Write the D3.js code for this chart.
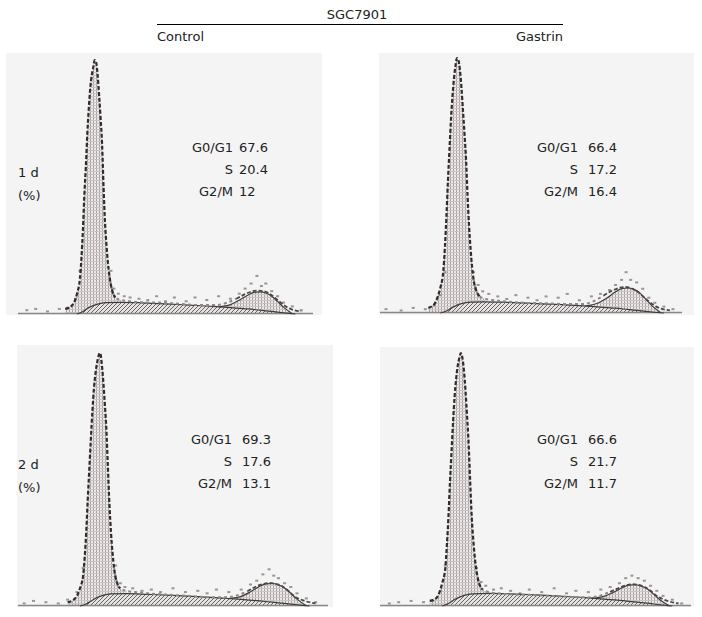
<!DOCTYPE html>
<html>
<head>
<meta charset="utf-8">
<script src="https://cdn.jsdelivr.net/npm/d3@7"></script>
<style>
  body { margin: 0; background: #fff; }
  text { font-family: "DejaVu Sans", Verdana, sans-serif; font-size: 13px; fill: #222; }
</style>
</head>
<body>
<svg id="chart" width="702" height="617"></svg>
<script>
// ----------------------
// 1. Data (DNA channel 0-100, counts as % of G1 peak)
// ----------------------
const groups = ["Control", "Gastrin"];
const days = ["1 d", "2 d"];
const phaseLabels = ["G0/G1", "S", "G2/M"];

const control1d = [67.6, 20.4, 12];
const gastrin1d = [66.4, 17.2, 16.4];
const control2d = [69.3, 17.6, 13.1];
const gastrin2d = [66.6, 21.7, 11.7];

const channels = [0, 4, 8, 12, 16, 18, 19, 20, 21, 21.5, 22, 22.5, 23, 23.5, 24, 24.5, 25, 25.5, 26,
  26.5, 27, 27.5, 28, 28.5, 29, 29.5, 30, 30.5, 31, 32, 33, 35, 38, 42, 48, 55, 62, 67, 71,
  74, 77, 79, 81, 83, 85, 87, 89, 92, 96, 100];

const histTL = [1, 1.5, 1, 1.5, 2, 3, 4.5, 8, 14, 22, 33, 47, 58, 71, 81, 89, 94, 97, 100,
  99, 94, 86, 77, 67, 50, 36, 27, 20, 15, 9, 6.5, 5.5, 5, 4.6, 4.5, 4, 3.5, 3.5, 4.5,
  6, 7.8, 8.8, 9.2, 9, 8.2, 6.5, 4.5, 2.2, 1, 0.5];
const histTR = [1, 1, 1.5, 1, 2, 3.5, 6, 10, 17, 26, 38, 52, 64, 76, 85, 92, 97, 100, 99,
  95, 88, 79, 70, 60, 46, 34, 25, 18, 13, 8.5, 6.5, 5.5, 5, 4.5, 4, 3.8, 3.5, 3.5, 4.8,
  6.8, 8.8, 9.8, 10.2, 9.8, 8.6, 6.6, 4.5, 2.2, 1, 0.5];
const histBL = [1, 1.5, 1, 1, 1.5, 2.5, 4, 7, 12, 19, 29, 42, 54, 66, 77, 86, 92, 96, 99,
  100, 96, 89, 80, 70, 55, 40, 29, 21, 15, 9, 7, 6, 5.5, 5, 4.5, 4, 3.5, 3.5, 4.3,
  5.8, 7.8, 8.7, 9.1, 8.8, 8, 6.2, 4, 2.2, 1, 0.5];
const histBR = [1, 1, 1.5, 1, 2, 3, 5, 9, 15, 24, 35, 49, 61, 73, 83, 90, 95, 98, 100,
  98, 93, 85, 75, 64, 49, 35, 26, 19, 14, 8.5, 6.5, 5.5, 5, 4.6, 4.4, 4, 3.6, 3.4, 4.2,
  5.6, 7.2, 8.1, 8.6, 8.4, 7.6, 6, 4, 2.2, 1, 0.5];

// S-phase fitted component
const sChannels = [20, 22, 24, 26, 28, 30, 35, 42, 50, 58, 66, 72, 78, 82, 86, 90, 94];
const sTL = [0, 1, 2.5, 3.5, 4.2, 4.5, 4.6, 4.4, 4, 3.5, 3, 2.5, 2, 1.5, 1, 0.5, 0];
const sTR = [0, 0.8, 2.2, 3.3, 4, 4.3, 4.4, 4.2, 3.8, 3.4, 2.9, 2.4, 1.9, 1.4, 0.9, 0.4, 0];
const sBL = [0, 0.8, 2.3, 3.6, 4.4, 4.8, 4.9, 4.6, 4.2, 3.7, 3.1, 2.6, 2, 1.5, 1, 0.5, 0];
const sBR = [0, 1, 2.6, 3.7, 4.5, 4.8, 5, 4.8, 4.4, 3.9, 3.3, 2.7, 2.1, 1.6, 1.1, 0.5, 0];

// G2/M fitted component (sits on top of S)
const g2Channels = [68, 72, 75, 78, 80, 82, 84, 86, 88, 90, 93];
const g2TL = [0, 1.2, 3.2, 5.5, 6.8, 7.2, 7, 6, 4.2, 2.2, 0];
const g2TR = [0, 1.4, 3.6, 6.4, 7.9, 8.4, 8.1, 7, 4.8, 2.5, 0];
const g2BL = [0, 1.2, 3.3, 5.8, 7, 7.4, 7.1, 6.1, 4.3, 2.2, 0];
const g2BR = [0, 1.1, 3, 5.2, 6.4, 6.8, 6.5, 5.6, 3.9, 2, 0];

// raw event dots scattered round the fit [channel, count]
const dotsTL = [[3, 1.5], [6, 2], [10, 1], [14, 2], [17, 2.5], [19.5, 6], [21, 17], [31.5, 17], [32.5, 10],
  [34, 8], [36, 7], [38, 6.5], [41, 6], [44, 5.5], [47, 7], [50, 5], [53, 6.5], [57, 5], [60, 6.5],
  [64, 5.5], [68, 7], [72, 6], [75, 8], [77, 10], [79, 12], [81, 15], [82.5, 11], [84, 12], [86, 9],
  [88, 7], [90, 4.5], [93, 3], [96, 1.5]];
const dotsTR = [[2, 1.5], [7, 1], [11, 2], [15, 1.5], [18, 3], [20, 7], [21.5, 16], [31, 16], [32.5, 11],
  [34, 8.5], [36, 7.5], [39, 6.5], [42, 5.5], [45, 7], [49, 6], [52, 5], [55, 6.5], [59, 6], [62, 7.5],
  [66, 5], [70, 6.5], [73, 7.5], [76, 9], [78, 11], [80, 13], [81.5, 16], [83, 13], [85, 12], [87, 9.5],
  [89, 6], [91, 4], [94, 2.5], [97, 1.5]];
const dotsBL = [[2, 1], [5, 2], [9, 1.5], [13, 1], [16, 2.5], [19, 5.5], [21, 15], [31.5, 16], [33, 9],
  [34.5, 7.5], [37, 7], [40, 6], [43, 6.5], [46, 5.5], [50, 7], [54, 5.5], [58, 6], [61, 5], [64, 6.5],
  [68, 5.5], [72, 6.5], [75, 8.5], [77, 10], [79, 12.5], [81, 14.5], [82.5, 12], [84, 11], [86, 9],
  [88, 7.5], [90, 5], [93, 3], [96, 1.5]];
const dotsBR = [[3, 1], [6, 1.5], [10, 2], [14, 1.5], [17, 2], [19.5, 6], [21, 16], [31, 15], [32.5, 9.5],
  [34, 8], [36.5, 6.5], [39, 7], [42, 6], [45, 5], [48, 6.5], [52, 5.5], [56, 7], [60, 5], [63, 6],
  [67, 5.5], [71, 6.5], [74, 7.5], [77, 9], [79, 11], [81, 12], [83, 11], [85, 10], [87, 8],
  [89, 6], [91, 4], [94, 2.5], [97, 1]];

// ----------------------
// 2. SVG + patterns
// ----------------------
const svg = d3.select("#chart");
const defs = svg.append("defs");

const grid = defs.append("pattern")
    .attr("id", "grid")
    .attr("patternUnits", "userSpaceOnUse")
    .attr("width", 3).attr("height", 3);
grid.append("rect").attr("width", 3).attr("height", 3).attr("fill", "#efe8e8");
grid.append("line").attr("x1", 0.5).attr("x2", 0.5).attr("y1", 0).attr("y2", 3)
    .attr("stroke", "#a9a2a2").attr("stroke-width", 1);
grid.append("line").attr("x1", 0).attr("x2", 3).attr("y1", 0.5).attr("y2", 0.5)
    .attr("stroke", "#cbc4c4").attr("stroke-width", 1);

const hatch = defs.append("pattern")
    .attr("id", "hatch")
    .attr("patternUnits", "userSpaceOnUse")
    .attr("width", 4).attr("height", 4);
hatch.append("rect").attr("width", 4).attr("height", 4).attr("fill", "#e6e3e3");
hatch.append("path").attr("d", "M0,4 L4,0 M-1,1 L1,-1 M3,5 L5,3")
    .attr("stroke", "#5a5656").attr("stroke-width", 0.9);

// header
svg.append("text").attr("x", 357).attr("y", 19).attr("text-anchor", "middle").text("SGC7901");
svg.append("line").attr("x1", 157).attr("x2", 563).attr("y1", 24.5).attr("y2", 24.5)
    .attr("stroke", "#000").attr("stroke-width", 1);
svg.append("text").attr("x", 157).attr("y", 41).text(groups[0]);
svg.append("text").attr("x", 563).attr("y", 41).attr("text-anchor", "end").text(groups[1]);

// ----------------------
// 3. Panels
// ----------------------
const panels = [
  { bg: [6, 53, 316, 262], px: [18, 313], base: 314, top: 60, hist: histTL, s: sTL, g2: g2TL, dots: dotsTL,
    stats: control1d, labelX: 233, valueX: 239, anchor: "start", rows: [152, 174, 196], day: days[0] },
  { bg: [379, 53, 315, 262], px: [380, 682], base: 313, top: 58, hist: histTR, s: sTR, g2: g2TR, dots: dotsTR,
    stats: gastrin1d, labelX: 578, valueX: 588, anchor: "start", rows: [152, 174, 196], day: null },
  { bg: [17, 345, 316, 262], px: [18, 328], base: 606, top: 353, hist: histBL, s: sBL, g2: g2BL, dots: dotsBL,
    stats: control2d, labelX: 232, valueX: 271, anchor: "end", rows: [444, 466, 488], day: days[1] },
  { bg: [380, 347, 314, 260], px: [380, 691], base: 606, top: 353, hist: histBR, s: sBR, g2: g2BR, dots: dotsBR,
    stats: gastrin2d, labelX: 578, valueX: 588, anchor: "start", rows: [444, 466, 488], day: null }
];

panels.forEach(p => {
  const g = svg.append("g");

  g.append("rect")
      .attr("x", p.bg[0]).attr("y", p.bg[1])
      .attr("width", p.bg[2]).attr("height", p.bg[3])
      .attr("fill", "#f4f4f4");

  const x = d3.scaleLinear().domain([0, 100]).range(p.px);
  const y = d3.scaleLinear().domain([0, 100]).range([p.base, p.top]);

  const hist = channels.map((c, k) => ({ c: c, v: p.hist[k] }));
  const sPts = sChannels.map((c, k) => ({ c: c, v: p.s[k] }));
  const sAt = c => {
    const k = d3.bisectRight(sChannels, c);
    if (k <= 0) return p.s[0];
    if (k >= sChannels.length) return p.s[sChannels.length - 1];
    const t = (c - sChannels[k - 1]) / (sChannels[k] - sChannels[k - 1]);
    return p.s[k - 1] + t * (p.s[k] - p.s[k - 1]);
  };
  const g2Pts = g2Channels.map((c, k) => ({ c: c, lo: sAt(c), hi: sAt(c) + p.g2[k] }));

  const area = d3.area().x(d => x(d.c)).y0(y(0)).y1(d => y(d.v)).curve(d3.curveMonotoneX);
  const line = d3.line().x(d => x(d.c)).y(d => y(d.v)).curve(d3.curveMonotoneX);

  // G1 peak, grid fill
  g.append("path")
      .datum(hist.filter(d => d.c >= 16 && d.c <= 35))
      .attr("fill", "url(#grid)")
      .attr("d", area);

  // S phase, hatched
  g.append("path")
      .datum(sPts)
      .attr("fill", "url(#hatch)")
      .attr("d", area);

  // G2/M, grid fill on top of S
  g.append("path")
      .datum(g2Pts)
      .attr("fill", "url(#grid)")
      .attr("d", d3.area().x(d => x(d.c)).y0(d => y(d.lo)).y1(d => y(d.hi)).curve(d3.curveMonotoneX));

  // baseline
  g.append("line")
      .attr("x1", x(0)).attr("x2", x(100)).attr("y1", y(0) - 0.5).attr("y2", y(0) - 0.5)
      .attr("stroke", "#8a8686").attr("stroke-width", 1.5);

  // raw event dots
  g.selectAll("rect.dot")
      .data(p.dots)
      .enter().append("rect")
      .attr("class", "dot")
      .attr("x", d => x(d[0]) - 1.5)
      .attr("y", d => y(d[1]) - 1)
      .attr("width", 3).attr("height", 2)
      .attr("fill", "#9a9494");

  // fitted lines
  g.append("path")
      .datum(sPts)
      .attr("fill", "none").attr("stroke", "#3c3a3a").attr("stroke-width", 1.2)
      .attr("d", line);
  g.append("path")
      .datum(g2Pts)
      .attr("fill", "none").attr("stroke", "#3c3a3a").attr("stroke-width", 1.2)
      .attr("d", d3.line().x(d => x(d.c)).y(d => y(d.hi)).curve(d3.curveMonotoneX));

  // histogram envelope: light dotted over S, dark dashed over the peaks
  g.append("path")
      .datum(hist.filter(d => d.c >= 31 && d.c <= 74))
      .attr("fill", "none")
      .attr("stroke", "#8e8888")
      .attr("stroke-width", 2)
      .attr("stroke-dasharray", "3,3")
      .attr("d", line);
  g.append("path")
      .datum(hist.filter(d => d.c >= 16 && d.c <= 33))
      .attr("fill", "none")
      .attr("stroke", "#2e2c2c")
      .attr("stroke-width", 2.2)
      .attr("stroke-dasharray", "4,2")
      .attr("d", line);
  g.append("path")
      .datum(hist.filter(d => d.c >= 74 && d.c <= 96))
      .attr("fill", "none")
      .attr("stroke", "#4a4646")
      .attr("stroke-width", 1.8)
      .attr("stroke-dasharray", "4,2")
      .attr("d", line);

  // stats
  p.stats.forEach((v, k) => {
    g.append("text").attr("x", p.labelX).attr("y", p.rows[k])
        .attr("text-anchor", "end").text(phaseLabels[k]);
    g.append("text").attr("x", p.valueX).attr("y", p.rows[k])
        .attr("text-anchor", p.anchor).text(v);
  });

  if (p.day) {
    g.append("text").attr("x", 18).attr("y", p.rows[1] + 3).text(p.day);
    g.append("text").attr("x", 18).attr("y", p.rows[1] + 26).text("(%)");
  }
});
</script>
</body>
</html>
